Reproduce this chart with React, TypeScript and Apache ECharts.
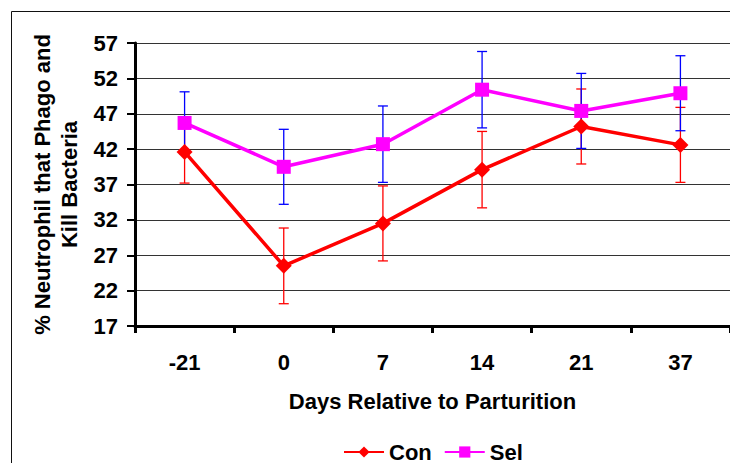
import React, { useEffect, useRef } from "react";
import * as echarts from "echarts";

const days = ["-21", "0", "7", "14", "21", "37"];
const conMean = [41.6, 25.5, 31.5, 39.1, 45.2, 42.6];
const conErr = [4.4, 5.35, 5.3, 5.4, 5.3, 5.3];
const selMean = [45.7, 39.5, 42.7, 50.4, 47.4, 49.9];
const selErr = [4.4, 5.3, 5.4, 5.4, 5.3, 5.3];
const yTicks = [17, 22, 27, 32, 37, 42, 47, 52, 57];

const FONT = "'Liberation Sans', Arial, sans-serif";

function errData(mean: number[], err: number[]) {
  return mean.map((m, i) => [i, m - err[i], m + err[i]]);
}

function errSeries(name: string, mean: number[], err: number[], color: string) {
  return {
    type: "custom",
    name: name + "-err",
    data: errData(mean, err),
    z: 1,
    silent: true,
    renderItem: (params: any, api: any) => {
      const x = api.value(0);
      const lo = api.coord([x, api.value(1)]);
      const hi = api.coord([x, api.value(2)]);
      const w = 5;
      const style = { stroke: color, lineWidth: 1.3 };
      return {
        type: "group",
        children: [
          { type: "line", shape: { x1: hi[0], y1: hi[1], x2: lo[0], y2: lo[1] }, style },
          { type: "line", shape: { x1: hi[0] - w, y1: hi[1], x2: hi[0] + w, y2: hi[1] }, style },
          { type: "line", shape: { x1: lo[0] - w, y1: lo[1], x2: lo[0] + w, y2: lo[1] }, style },
        ],
      };
    },
  };
}

export default function App() {
  const ref = useRef<HTMLDivElement>(null);
  useEffect(() => {
    document.body.style.margin = "0";
    const chart = echarts.init(ref.current!, null, { renderer: "svg" });
    chart.setOption({
      animation: false,
      backgroundColor: "#fff",
      textStyle: { fontFamily: FONT },
      graphic: [
        {
          type: "rect",
          shape: { x: 11.5, y: 11.5, width: 740, height: 480 },
          style: { fill: "none", stroke: "#111", lineWidth: 1 },
          silent: true,
        },
      ],
      grid: { left: 135, top: 43, right: -5, bottom: 137 },
      legend: {
        left: 343,
        top: 441,
        padding: 0,
        itemWidth: 40,
        itemHeight: 14,
        itemGap: 12,
        textStyle: { fontFamily: FONT, fontWeight: "bold", fontSize: 22, color: "#000" },
        data: ["Con", "Sel"],
      },
      xAxis: {
        type: "category",
        data: days,
        boundaryGap: true,
        name: "Days Relative to Parturition",
        nameLocation: "middle",
        nameGap: 64,
        nameTextStyle: { fontFamily: FONT, fontWeight: "bold", fontSize: 22, color: "#000" },
        axisLine: { lineStyle: { color: "#000", width: 3 } },
        axisTick: { show: true, length: 7, lineStyle: { color: "#000", width: 3 } },
        axisLabel: { fontFamily: FONT, fontWeight: "bold", fontSize: 22, color: "#000", margin: 25 },
        splitLine: { show: false },
      },
      yAxis: {
        type: "value",
        min: yTicks[0],
        max: yTicks[yTicks.length - 1],
        interval: 5,
        name: "% Neutrophil that Phago and\nKill Bacteria",
        nameLocation: "middle",
        nameGap: 52,
        nameRotate: 90,
        nameTextStyle: {
          fontFamily: FONT,
          fontWeight: "bold",
          fontSize: 22,
          color: "#000",
          lineHeight: 27,
        },
        axisLine: { show: true, lineStyle: { color: "#000", width: 3 } },
        axisTick: { show: true, length: 8, lineStyle: { color: "#000", width: 2 } },
        axisLabel: { fontFamily: FONT, fontWeight: "bold", fontSize: 22, color: "#000", margin: 17 },
        splitLine: { show: true, lineStyle: { color: "#333", width: 1 } },
      },
      series: [
        errSeries("Con", conMean, conErr, "#ff0000"),
        errSeries("Sel", selMean, selErr, "#0000ff"),
        {
          type: "line",
          name: "Con",
          data: conMean,
          z: 3,
          symbol: "diamond",
          symbolSize: 16,
          color: "#ff0000",
          lineStyle: { width: 3.5, color: "#ff0000" },
          itemStyle: { color: "#ff0000" },
        },
        {
          type: "line",
          name: "Sel",
          data: selMean,
          z: 4,
          symbol: "rect",
          symbolSize: 14,
          color: "#ff00ff",
          lineStyle: { width: 3.5, color: "#ff00ff" },
          itemStyle: { color: "#ff00ff" },
        },
      ],
    });
    return () => chart.dispose();
  }, []);
  return <div ref={ref} style={{ width: 730, height: 463 }} />;
}
